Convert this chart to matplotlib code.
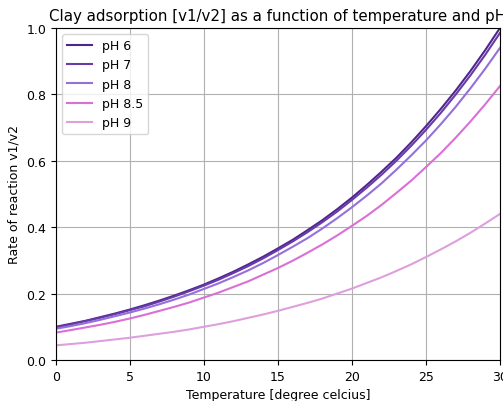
import matplotlib
matplotlib.use('Agg')
import matplotlib.pyplot as plt

plt.rcParams['font.size'] = 9

# ------------------ ДАННЫЕ ------------------
temperature = list(range(0, 31))

ph6 = [0.100, 0.109, 0.118, 0.129, 0.140, 0.152, 0.165, 0.179, 0.194, 0.210,
       0.227, 0.246, 0.266, 0.288, 0.311, 0.336, 0.362, 0.391, 0.421, 0.454,
       0.489, 0.527, 0.567, 0.609, 0.655, 0.704, 0.756, 0.811, 0.870, 0.933,
       1.000]
ph7 = [0.0985, 0.107, 0.117, 0.127, 0.138, 0.150, 0.162, 0.176, 0.191, 0.207,
       0.224, 0.242, 0.262, 0.283, 0.306, 0.331, 0.357, 0.385, 0.415, 0.447,
       0.482, 0.519, 0.558, 0.600, 0.645, 0.693, 0.744, 0.799, 0.857, 0.919,
       0.985]
ph8 = [0.094, 0.102, 0.111, 0.121, 0.132, 0.143, 0.155, 0.168, 0.182, 0.197,
       0.214, 0.231, 0.250, 0.270, 0.292, 0.316, 0.341, 0.367, 0.396, 0.427,
       0.460, 0.495, 0.532, 0.573, 0.616, 0.661, 0.710, 0.762, 0.818, 0.877,
       0.940]
ph85 = [0.0825, 0.090, 0.098, 0.106, 0.115, 0.125, 0.136, 0.148, 0.160, 0.173,
        0.188, 0.203, 0.220, 0.237, 0.257, 0.277, 0.299, 0.323, 0.348, 0.375,
        0.404, 0.434, 0.467, 0.503, 0.540, 0.581, 0.623, 0.669, 0.718, 0.770,
        0.825]
ph9 = [0.044, 0.048, 0.052, 0.057, 0.062, 0.067, 0.073, 0.079, 0.085, 0.092,
       0.100, 0.108, 0.117, 0.127, 0.137, 0.148, 0.160, 0.172, 0.185, 0.200,
       0.215, 0.232, 0.249, 0.268, 0.288, 0.310, 0.333, 0.357, 0.383, 0.411,
       0.440]

labels = ['pH 6', 'pH 7', 'pH 8', 'pH 8.5', 'pH 9']
series = [ph6, ph7, ph8, ph85, ph9]
colors = ['#4f2590', '#6a3aa8', '#9370db', '#da70d6', '#dda0dd']

# ------------------ ГРАФИК ------------------
fig = plt.figure(figsize=(5.03, 4.02), dpi=100)
ax = fig.add_axes([0.111, 0.102, 0.883, 0.826])

for vals, lab, col in zip(series, labels, colors):
    ax.plot(temperature, vals, color=col, label=lab, linewidth=1.5)

ax.set_xlim(0, 30)
ax.set_ylim(0, 1.0)
ax.set_xlabel('Temperature [degree celcius]')
ax.set_ylabel('Rate of reaction v1/v2')
ax.set_title('Clay adsorption [v1/v2] as a function of temperature and pH',
             fontsize=10.8)
ax.grid(True)
ax.legend(loc='upper left')

fig.savefig('out.png', dpi=100)
